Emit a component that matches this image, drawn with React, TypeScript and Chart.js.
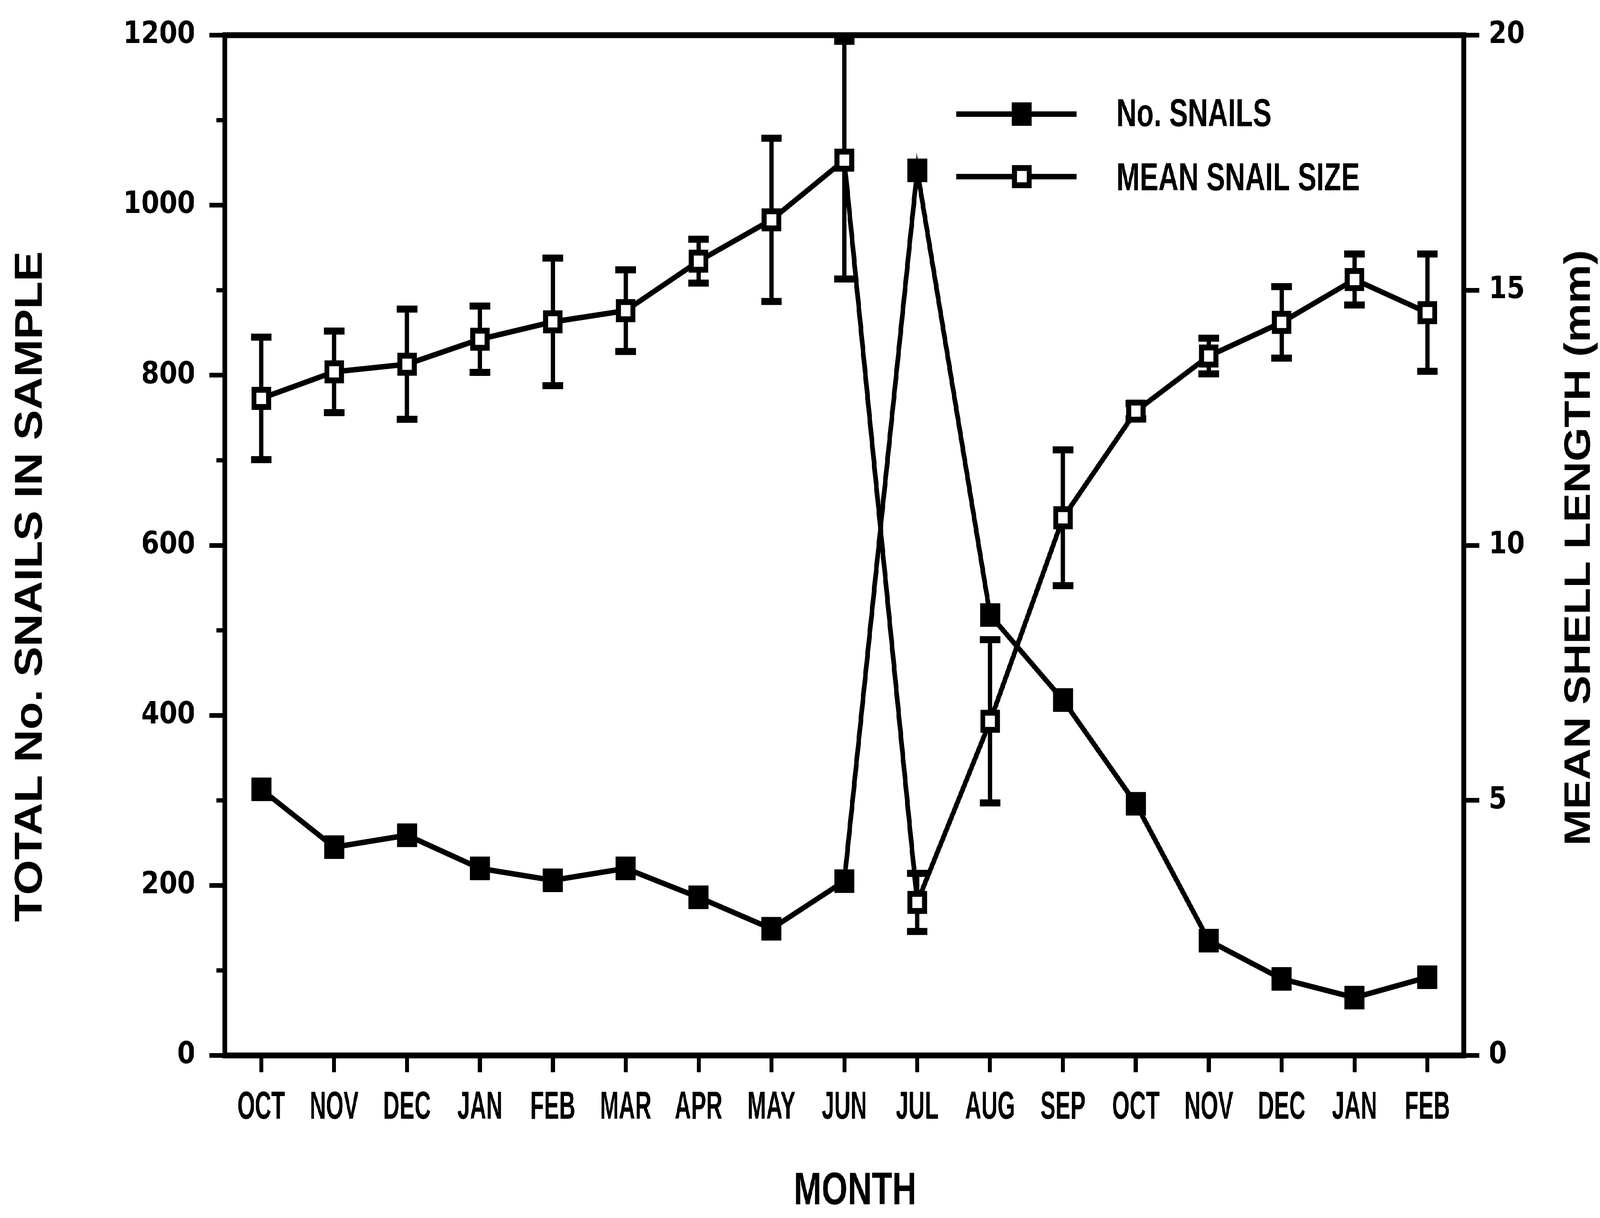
import React, { useEffect, useRef, useState } from "react";
import { Chart, registerables } from "chart.js";

Chart.register(...registerables);

const months = ["OCT", "NOV", "DEC", "JAN", "FEB", "MAR", "APR", "MAY", "JUN", "JUL", "AUG", "SEP", "OCT", "NOV", "DEC", "JAN", "FEB"];
const snailCounts = [313, 245, 259, 220, 206, 220, 186, 149, 205, 1041, 518, 418, 296, 135, 90, 68, 92];
const meanShellLength = [12.88, 13.4, 13.55, 14.04, 14.38, 14.6, 15.57, 16.38, 17.55, 3.0, 6.55, 10.54, 12.63, 13.71, 14.37, 15.21, 14.56];
const shellLengthError = [1.2, 0.8, 1.08, 0.65, 1.25, 0.8, 0.43, 1.6, 2.33, 0.57, 1.6, 1.33, 0.15, 0.35, 0.7, 0.5, 1.15];
const leftAxisTicks = [0, 200, 400, 600, 800, 1000, 1200];
const leftMinorTicks = [100, 300, 500, 700, 900, 1100];
const rightAxisTicks = [0, 5, 10, 15, 20];
const legendLabels = ["No. SNAILS", "MEAN SNAIL SIZE"];
const xTitle = "MONTH";
const leftTitle = "TOTAL No. SNAILS IN SAMPLE";
const rightTitle = "MEAN SHELL LENGTH (mm)";

const W = 4818;
const H = 3117;
const SANS = '"Liberation Sans", Arial, sans-serif';

export default function App() {
  const ref = useRef<HTMLCanvasElement>(null);
  const [fit] = useState(() => ({
    sx: (typeof window !== "undefined" ? window.innerWidth : W) / W,
    sy: (typeof window !== "undefined" ? window.innerHeight : H) / H,
  }));

  useEffect(() => {
    const canvas = ref.current!;

    const drawText = (ctx: CanvasRenderingContext2D, text: string, x: number, y: number, font: string, sx: number, rot: number) => {
      ctx.save();
      ctx.translate(x, y);
      if (rot) ctx.rotate(rot);
      ctx.scale(sx, 1);
      ctx.font = font;
      ctx.fillText(text, 0, 0);
      ctx.restore();
    };

    const decor = {
      id: "snailDecor",
      beforeDatasetsDraw(chart: any) {
        const { ctx, scales } = chart;
        const xS = scales.x;
        const yR = scales.y1;
        ctx.save();
        ctx.strokeStyle = "#000";
        ctx.lineCap = "butt";
        meanShellLength.forEach((m, i) => {
          const x = xS.getPixelForValue(i);
          const yt = yR.getPixelForValue(m + shellLengthError[i]);
          const yb = yR.getPixelForValue(m - shellLengthError[i]);
          ctx.lineWidth = 13;
          ctx.beginPath();
          ctx.moveTo(x, yt);
          ctx.lineTo(x, yb);
          ctx.stroke();
          ctx.lineWidth = 18;
          [yt, yb].forEach((y) => {
            ctx.beginPath();
            ctx.moveTo(x - 31, y);
            ctx.lineTo(x + 31, y);
            ctx.stroke();
          });
        });
        ctx.restore();
      },
      afterDraw(chart: any) {
        const { ctx, chartArea: a, scales } = chart;
        const xS = scales.x;
        const yL = scales.y;
        ctx.save();
        ctx.strokeStyle = "#000";
        ctx.fillStyle = "#000";
        ctx.lineWidth = 15;
        ctx.strokeRect(a.left, a.top, a.right - a.left, a.bottom - a.top);
        ctx.lineWidth = 11;
        leftMinorTicks.forEach((v) => {
          const y = yL.getPixelForValue(v);
          ctx.beginPath();
          ctx.moveTo(a.left - 25, y);
          ctx.lineTo(a.left, y);
          ctx.stroke();
        });
        ctx.textAlign = "center";
        ctx.textBaseline = "middle";
        months.forEach((m, i) => {
          drawText(ctx, m, xS.getPixelForValue(i), 2835, `bold 100px ${SANS}`, 0.68, 0);
        });
        drawText(ctx, xTitle, 2575, 3050, `bold 116px ${SANS}`, 0.87, 0);
        ctx.textBaseline = "alphabetic";
        drawText(ctx, leftTitle, 126, 1501, `bold 116px ${SANS}`, 1, -Math.PI / 2);
        drawText(ctx, rightTitle, 4788, 1402, `bold 112px ${SANS}`, 1, -Math.PI / 2);
        const legY = [292, 452];
        const textY = [295, 459];
        const mx = 3077;
        legY.forEach((y, k) => {
          ctx.lineWidth = 14;
          ctx.beginPath();
          ctx.moveTo(2880, y);
          ctx.lineTo(3242, y);
          ctx.stroke();
          if (k === 0) {
            ctx.fillStyle = "#000";
            ctx.fillRect(mx - 30, y - 30, 60, 60);
          } else {
            ctx.fillStyle = "#fff";
            ctx.fillRect(mx - 22, y - 22, 44, 44);
            ctx.lineWidth = 15;
            ctx.strokeRect(mx - 22, y - 22, 44, 44);
          }
          ctx.fillStyle = "#000";
          ctx.textAlign = "left";
          ctx.textBaseline = "middle";
          drawText(ctx, legendLabels[k], 3362, textY[k], `bold 100px ${SANS}`, 0.84, 0);
        });
        ctx.restore();
      },
    };

    const tickGrid = (len: number) => ({
      drawOnChartArea: false,
      drawTicks: true,
      tickLength: len,
      tickWidth: 12,
      tickColor: "#000",
      color: "#000",
      lineWidth: 12,
    });

    const chart = new Chart(canvas, {
      type: "line",
      data: {
        datasets: [
          {
            label: legendLabels[0],
            data: snailCounts.map((v, i) => ({ x: i, y: v })),
            yAxisID: "y",
            borderColor: "#000",
            borderWidth: 14,
            pointStyle: "rect",
            pointRadius: 42,
            pointBackgroundColor: "#000",
            pointBorderColor: "#000",
            pointBorderWidth: 1,
            tension: 0,
          },
          {
            label: legendLabels[1],
            data: meanShellLength.map((v, i) => ({ x: i, y: v })),
            yAxisID: "y1",
            borderColor: "#000",
            borderWidth: 14,
            pointStyle: "rect",
            pointRadius: 31,
            pointBackgroundColor: "#fff",
            pointBorderColor: "#000",
            pointBorderWidth: 15,
            tension: 0,
          },
        ],
      },
      options: {
        animation: false,
        responsive: false,
        devicePixelRatio: 1,
        events: [],
        layout: { padding: { top: 90, left: 0, right: 0, bottom: 0 } },
        plugins: {
          legend: { display: false },
          tooltip: { enabled: false },
          title: { display: false },
        },
        scales: {
          x: {
            type: "linear",
            position: "bottom",
            min: -0.5,
            max: 16.5,
            afterBuildTicks: (s: any) => {
              s.ticks = months.map((_, i) => ({ value: i }));
            },
            afterFit: (s: any) => {
              s.height = 416;
            },
            border: { display: false },
            grid: tickGrid(43),
            ticks: { autoSkip: false, maxRotation: 0, callback: () => "" },
          },
          y: {
            type: "linear",
            position: "left",
            min: 0,
            max: 1200,
            afterBuildTicks: (s: any) => {
              s.ticks = leftAxisTicks.map((v) => ({ value: v }));
            },
            afterFit: (s: any) => {
              s.width = 677;
            },
            border: { display: false },
            grid: tickGrid(46),
            ticks: {
              padding: 43,
              color: "#000",
              font: { family: "DejaVu Sans", weight: "bold", size: 78 },
              callback: (v: any) => String(v),
            },
          },
          y1: {
            type: "linear",
            position: "right",
            min: 0,
            max: 20,
            afterBuildTicks: (s: any) => {
              s.ticks = rightAxisTicks.map((v) => ({ value: v }));
            },
            afterFit: (s: any) => {
              s.width = W - 4408;
            },
            border: { display: false },
            grid: tickGrid(46),
            ticks: {
              padding: 29,
              color: "#000",
              font: { family: "DejaVu Sans", weight: "bold", size: 78 },
              callback: (v: any) => String(v),
            },
          },
        },
      } as any,
      plugins: [decor],
    });

    return () => chart.destroy();
  }, []);

  return (
    <div
      style={{
        position: "fixed",
        left: 0,
        top: 0,
        width: W,
        height: H,
        background: "#fff",
        transformOrigin: "0 0",
        transform: `scale(${fit.sx}, ${fit.sy})`,
      }}
    >
      <canvas ref={ref} width={W} height={H} style={{ display: "block", width: `${W}px`, height: `${H}px` }} />
    </div>
  );
}
